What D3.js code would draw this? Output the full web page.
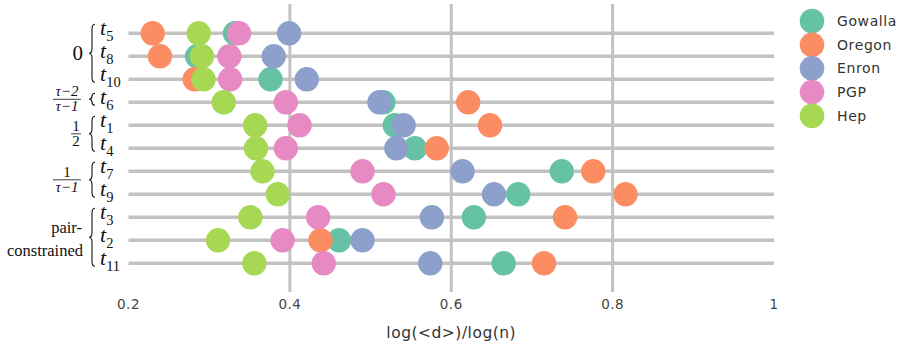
<!DOCTYPE html>
<html>
<head>
<meta charset="utf-8">
<script src="https://cdn.jsdelivr.net/npm/d3@7"></script>
<style>
  body { margin: 0; background: #fff; }
  svg { display: block; }
</style>
</head>
<body>
<svg width="924" height="358"></svg>
<script>
var svg = d3.select('svg');

// rows top to bottom (t subscripts)
var rows = ["5", "8", "10", "6", "1", "4", "7", "9", "3", "2", "11"];

// log(<d>)/log(n) per network, same order as rows
var gowalla = [0.332, 0.285, 0.376, 0.516, 0.530, 0.555, 0.737, 0.683, 0.628, 0.461, 0.665];
var oregon  = [0.230, 0.239, 0.282, 0.621, 0.648, 0.582, 0.776, 0.816, 0.741, 0.438, 0.715];
var enron   = [0.399, 0.380, 0.421, 0.511, 0.541, 0.532, 0.614, 0.653, 0.576, 0.490, 0.574];
var pgp     = [0.337, 0.325, 0.326, 0.395, 0.412, 0.395, 0.490, 0.516, 0.435, 0.391, 0.442];
var hep     = [0.287, 0.291, 0.293, 0.318, 0.357, 0.358, 0.366, 0.385, 0.351, 0.311, 0.356];

var names = ["Gowalla", "Oregon", "Enron", "PGP", "Hep"];
var values = [gowalla, oregon, enron, pgp, hep];
var colors = ["#66c2a5", "#fc8d62", "#8da0cb", "#e78ac3", "#a6d854"];

var xTicks = [0.2, 0.4, 0.6, 0.8, 1];
var gridTicks = [0.4, 0.6, 0.8];

// row groups: label kind, first row, last row
var groups = [
  {kind: "zero", first: "5", last: "10"},
  {kind: "frac", num: "τ−2", den: "τ−1", first: "6", last: "6"},
  {kind: "frac", num: "1", den: "2", first: "1", last: "4"},
  {kind: "frac", num: "1", den: "τ−1", first: "7", last: "9"},
  {kind: "pair", first: "3", last: "11"}
];

var x = d3.scaleLinear().domain([0.2, 1]).range([128.5, 774]);
var y = d3.scalePoint().domain(rows).range([33.3, 263.3]);

var grey = "#c2c2c2";

// vertical grid
svg.selectAll('line.vgrid')
  .data(gridTicks)
  .enter()
  .append('line')
  .attr('class', 'vgrid')
  .attr('x1', function(d){ return x(d); })
  .attr('x2', function(d){ return x(d); })
  .attr('y1', 4)
  .attr('y2', 292)
  .attr('stroke', grey)
  .attr('stroke-width', 3);

// horizontal row lines
svg.selectAll('line.hgrid')
  .data(rows)
  .enter()
  .append('line')
  .attr('class', 'hgrid')
  .attr('x1', x(0.2))
  .attr('x2', x(1))
  .attr('y1', function(d){ return y(d); })
  .attr('y2', function(d){ return y(d); })
  .attr('stroke', grey)
  .attr('stroke-width', 3.5);

// dots, one series at a time
values.forEach(function(series, s){
  svg.append('g')
    .selectAll('circle')
    .data(series)
    .enter()
    .append('circle')
    .attr('cx', function(d){ return x(d); })
    .attr('cy', function(d, i){ return y(rows[i]); })
    .attr('r', 12.2)
    .attr('fill', colors[s]);
});

// x tick labels
svg.selectAll('text.tick')
  .data(xTicks)
  .enter()
  .append('text')
  .attr('class', 'tick')
  .attr('x', function(d){ return x(d); })
  .attr('y', 309)
  .attr('text-anchor', 'middle')
  .attr('font-family', 'DejaVu Sans, sans-serif')
  .attr('font-size', 13.5)
  .attr('letter-spacing', 0.5)
  .attr('fill', '#444')
  .text(function(d){ return d3.format('~g')(d); });

svg.append('text')
  .attr('x', x(0.6))
  .attr('y', 338)
  .attr('text-anchor', 'middle')
  .attr('font-family', 'DejaVu Sans, sans-serif')
  .attr('font-size', 15.5)
  .attr('letter-spacing', 0.5)
  .attr('fill', '#333')
  .text('log(<d>)/log(n)');

// row labels t_i
var rowText = svg.selectAll('text.row')
  .data(rows)
  .enter()
  .append('text')
  .attr('class', 'row')
  .attr('x', 100)
  .attr('y', function(d){ return y(d) + 2; })
  .attr('font-family', 'Liberation Serif, DejaVu Serif, serif')
  .attr('fill', '#111');

rowText.append('tspan')
  .attr('font-style', 'italic')
  .attr('font-size', 22)
  .text('t');

rowText.append('tspan')
  .attr('font-size', 14.5)
  .attr('dy', 6)
  .text(function(d){ return d; });

// braces and group labels
function brace(xt, y1, y2){
  var w = 6, xm = xt + w / 2, ym = (y1 + y2) / 2;
  var q = Math.min(5, (ym - y1) / 2);
  return 'M' + (xt + w) + ',' + y1 +
    ' Q' + xm + ',' + y1 + ' ' + xm + ',' + (y1 + q) +
    ' L' + xm + ',' + (ym - q) +
    ' Q' + xm + ',' + ym + ' ' + xt + ',' + ym +
    ' Q' + xm + ',' + ym + ' ' + xm + ',' + (ym + q) +
    ' L' + xm + ',' + (y2 - q) +
    ' Q' + xm + ',' + y2 + ' ' + (xt + w) + ',' + y2;
}

var serif = 'Liberation Serif, DejaVu Serif, serif';

groups.forEach(function(g){
  var y1 = y(g.first) - 9;
  var y2 = y(g.last) + 3;
  var ym = (y1 + y2) / 2;

  svg.append('path')
    .attr('d', brace(89, y1, y2))
    .attr('fill', 'none')
    .attr('stroke', '#111')
    .attr('stroke-width', 1.1);

  if (g.kind == "zero") {
    svg.append('text')
      .attr('x', 83)
      .attr('y', ym + 7)
      .attr('text-anchor', 'end')
      .attr('font-family', serif)
      .attr('font-size', 21)
      .attr('fill', '#111')
      .text('0');
  }

  if (g.kind == "frac") {
    var half = g.den.length > 1 ? 14 : 5;
    var cx = 81 - half;
    svg.append('line')
      .attr('x1', cx - half)
      .attr('x2', cx + half)
      .attr('y1', ym)
      .attr('y2', ym)
      .attr('stroke', '#111')
      .attr('stroke-width', 0.8);
    svg.append('text')
      .attr('x', cx)
      .attr('y', ym - 3)
      .attr('text-anchor', 'middle')
      .attr('font-family', serif)
      .attr('font-style', g.num.length > 1 ? 'italic' : 'normal')
      .attr('font-size', 15)
      .attr('fill', '#111')
      .text(g.num);
    svg.append('text')
      .attr('x', cx)
      .attr('y', ym + 12)
      .attr('text-anchor', 'middle')
      .attr('font-family', serif)
      .attr('font-style', g.den.length > 1 ? 'italic' : 'normal')
      .attr('font-size', 15)
      .attr('fill', '#111')
      .text(g.den);
  }

  if (g.kind == "pair") {
    svg.append('text')
      .attr('x', 82)
      .attr('y', ym - 4)
      .attr('text-anchor', 'end')
      .attr('font-family', serif)
      .attr('font-size', 16.5)
      .attr('fill', '#111')
      .text('pair-');
    svg.append('text')
      .attr('x', 83)
      .attr('y', ym + 19)
      .attr('text-anchor', 'end')
      .attr('font-family', serif)
      .attr('font-size', 16.5)
      .attr('fill', '#111')
      .text('constrained');
  }
});

// legend
var legend = svg.selectAll('g.legend')
  .data(names)
  .enter()
  .append('g')
  .attr('class', 'legend')
  .attr('transform', function(d, i){
    return 'translate(812,' + (21 + i * 23.7) + ')';
  });

legend.append('circle')
  .attr('r', 12.3)
  .attr('fill', function(d, i){ return colors[i]; });

legend.append('text')
  .attr('x', 25)
  .attr('y', 5)
  .attr('font-family', 'DejaVu Sans, sans-serif')
  .attr('font-size', 14)
  .attr('letter-spacing', 0.6)
  .attr('fill', '#333')
  .text(function(d){ return d; });
</script>
</body>
</html>
